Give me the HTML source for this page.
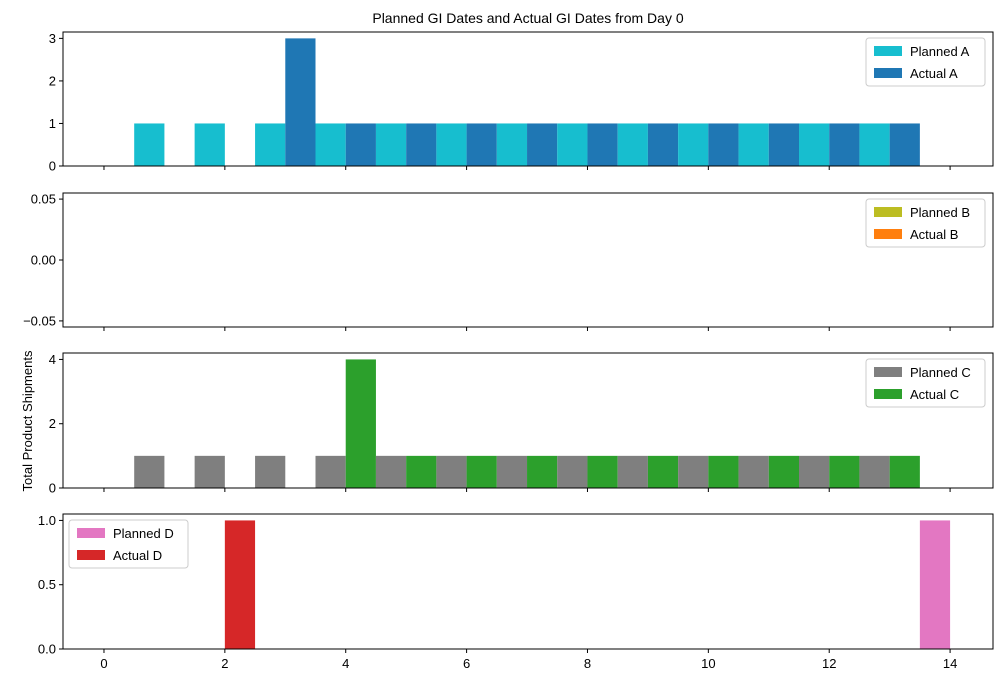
<!DOCTYPE html>
<html><head><meta charset="utf-8"><style>
body{margin:0;background:#fff;}
svg{display:block;font-family:"Liberation Sans","DejaVu Sans",sans-serif;}
</style></head><body>
<svg id="c" width="1001" height="682"></svg>
<script>
const days=[0,1,2,3,4,5,6,7,8,9,10,11,12,13,14];
const plannedA=[0,1,1,1,1,1,1,1,1,1,1,1,1,1,0];
const actualA=[0,0,0,3,1,1,1,1,1,1,1,1,1,1,0];
const plannedB=[0,0,0,0,0,0,0,0,0,0,0,0,0,0,0];
const actualB=[0,0,0,0,0,0,0,0,0,0,0,0,0,0,0];
const plannedC=[0,1,1,1,1,1,1,1,1,1,1,1,1,1,0];
const actualC=[0,0,0,0,4,1,1,1,1,1,1,1,1,1,0];
const plannedD=[0,0,0,0,0,0,0,0,0,0,0,0,0,0,1];
const actualD=[0,0,1,0,0,0,0,0,0,0,0,0,0,0,0];
const xTicks=[0,2,4,6,8,10,12,14];
const ticksA=[0,1,2,3],ticksB=[-0.05,0,0.05],ticksC=[0,2,4],ticksD=[0,0.5,1];
const tickLabelsB=["\u22120.05","0.00","0.05"],tickLabelsD=["0.0","0.5","1.0"];
const NS="http://www.w3.org/2000/svg",svg=document.getElementById('c');
function mk(t,a,p){const e=document.createElementNS(NS,t);for(const k in a)e.setAttribute(k,a[k]);(p||svg).appendChild(e);return e;}
const L=63,R=993,xmin=-0.678,xmax=14.71;
const X=v=>L+(v-xmin)/(xmax-xmin)*(R-L);
const panels=[
 {top:32,bot:166,ymin:0,ymax:3.15,ticks:ticksA,labels:null,p:plannedA,a:actualA,pc:"#17becf",ac:"#1f77b4",pn:"Planned A",an:"Actual A",leg:"right",id:"a"},
 {top:193,bot:327,ymin:-0.055,ymax:0.055,ticks:ticksB,labels:tickLabelsB,p:plannedB,a:actualB,pc:"#bcbd22",ac:"#ff7f0e",pn:"Planned B",an:"Actual B",leg:"right",id:"b"},
 {top:353,bot:488,ymin:0,ymax:4.2,ticks:ticksC,labels:null,p:plannedC,a:actualC,pc:"#7f7f7f",ac:"#2ca02c",pn:"Planned C",an:"Actual C",leg:"right",id:"c"},
 {top:514,bot:649,ymin:0,ymax:1.05,ticks:ticksD,labels:tickLabelsD,p:plannedD,a:actualD,pc:"#e377c2",ac:"#d62728",pn:"Planned D",an:"Actual D",leg:"left",id:"d"}];
panels.forEach((P,pi)=>{
 const g=mk('g',{});
 
 
 const Y=v=>P.bot-(v-P.ymin)/(P.ymax-P.ymin)*(P.bot-P.top);
 const base=Y(Math.max(0,P.ymin));
 days.forEach((d,i)=>{
  if(P.p[i]>0){const r=mk('rect',{x:X(d-0.5),y:Y(P.p[i]),width:X(d)-X(d-0.5),height:base-Y(P.p[i]),fill:P.pc},g);
   }
  if(P.a[i]>0){const r=mk('rect',{x:X(d),y:Y(P.a[i]),width:X(d+0.5)-X(d),height:base-Y(P.a[i]),fill:P.ac},g);
   }
 });
 mk('rect',{x:L,y:P.top,width:R-L,height:P.bot-P.top,fill:'none',stroke:'#000','stroke-width':1},g);
 P.ticks.forEach((t,i)=>{const y=Y(t);mk('line',{x1:L-4,x2:L,y1:y,y2:y,stroke:'#000'},g);
  const tx=mk('text',{x:L-7,y:y+4.5,'font-size':13,'text-anchor':'end'},g);tx.textContent=P.labels?P.labels[i]:String(t);
  });
 xTicks.forEach(t=>{const x=X(t);mk('line',{x1:x,x2:x,y1:P.bot,y2:P.bot+4,stroke:'#000'},g);
  if(pi==3){const tx=mk('text',{x:x,y:P.bot+19,'font-size':13,'text-anchor':'middle'},g);tx.textContent=t;
   }});
 const lx=P.leg=="right"?866:69,ly=P.top+6;
 const lg=mk('g',{},g);
 
 mk('rect',{x:lx,y:ly,width:119,height:48,rx:3,fill:'#fff','fill-opacity':0.8,stroke:'#ccc'},lg);
 [[P.pc,P.pn],[P.ac,P.an]].forEach((e,k)=>{mk('rect',{x:lx+8,y:ly+8+k*22,width:28,height:10,fill:e[0]},lg);
  const tx=mk('text',{x:lx+44,y:ly+18+k*22,'font-size':13},lg);tx.textContent=e[1];});
});
const t=mk('text',{x:528,y:23,'font-size':14,'text-anchor':'middle'});t.textContent="Planned GI Dates and Actual GI Dates from Day 0";

const yl=mk('text',{x:0,y:0,'font-size':13,'text-anchor':'middle',transform:'translate(32,421) rotate(-90)'});yl.textContent="Total Product Shipments";

</script>
</body></html>
